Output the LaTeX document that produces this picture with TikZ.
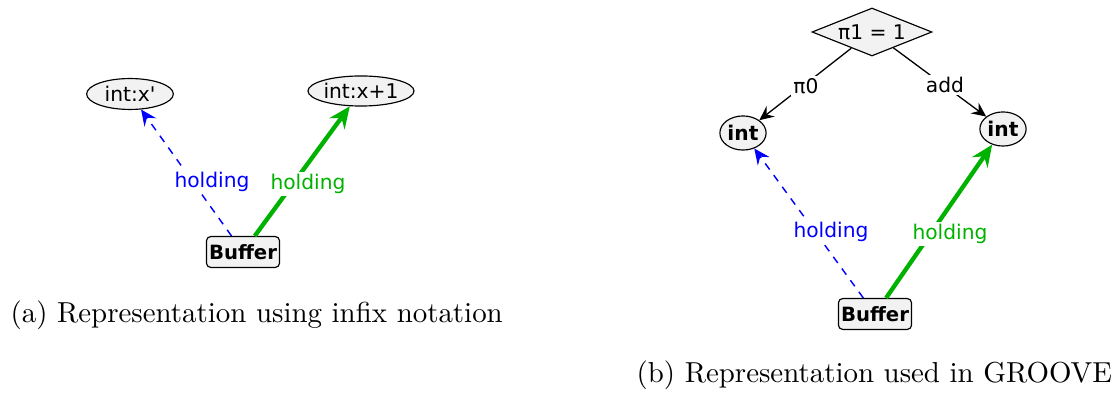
\documentclass[tikz,border=0pt]{standalone}
\usepackage{fontspec}
\newfontfamily\grfont{DejaVu Sans}
\usepackage{tikz}
\usetikzlibrary{arrows.meta,shapes.geometric}

\definecolor{grgreen}{RGB}{0,178,0}
\definecolor{grfill}{RGB}{242,242,242}

\tikzset{
	val/.style={ellipse, draw, fill=grfill, inner sep=0pt, font=\grfont\fontsize{7}{8}\selectfont},
	tp/.style={rectangle, draw, rounded corners=1.5pt, fill=grfill, inner sep=0pt, minimum width=25.3pt, minimum height=10.7pt, font=\grfont\bfseries\fontsize{6.8}{8}\selectfont},
	cond/.style={diamond, draw, fill=grfill, inner sep=0pt, aspect=2.5, minimum width=41.5pt, minimum height=16.6pt, font=\grfont\fontsize{7}{8}\selectfont},
	lbl/.style={fill=white, inner sep=0.8pt, font=\grfont\fontsize{7}{8}\selectfont},
	old/.style={blue, line width=0.5pt, dash pattern=on 2.6pt off 2.4pt, -{Stealth[length=5.5pt, width=5pt, inset=2pt]}},
	new/.style={grgreen, line width=1.5pt, -{Stealth[length=7.5pt, width=6.5pt, inset=2.6pt]}},
	op/.style={line width=0.45pt, -{Stealth[length=5pt, width=4.6pt, inset=1.8pt]}},
}

\begin{document}
\begin{tikzpicture}[x=0.346pt, y=-0.346pt]
	\useasboundingbox (0,0) rectangle (1116,394);

	% (a) infix notation
	\node (xa) at (130,94) [val, minimum width=30pt, minimum height=10.7pt] {int:x\char"0027};
	\node (xb) at (361,91) [val, minimum width=34.6pt, minimum height=10.4pt] {int:x+1};
	\node (bufa) at (243,252) [tp] {Buffer};

	\draw [old] (bufa) -- (xa);
	\draw [new] (bufa) -- (xb);
	\node (ha) at (212,182) [lbl, text=blue] {holding};
	\node (hb) at (308,184) [lbl, text=grgreen] {holding};

	\node (capa) at (10,315) [anchor=west, inner sep=0pt] {(a) Representation using infix notation};

	% (b) GROOVE
	\node (eq) at (872,32) [cond] {π1 = 1};
	\node (ia) at (743,133) [val, minimum width=16pt, minimum height=11.8pt] {\bfseries int};
	\node (ib) at (1003,129) [val, minimum width=16pt, minimum height=11.8pt] {\bfseries int};
	\node (bufb) at (875,314) [tp] {Buffer};

	\draw [op] (eq) -- (ia);
	\draw [op] (eq) -- (ib);
	\node (pa) at (806,86) [lbl] {π0};
	\node (pb) at (945,85) [lbl] {add};

	\draw [old] (bufb) -- (ia);
	\draw [new] (bufb) -- (ib);
	\node (hc) at (831,232) [lbl, text=blue] {holding};
	\node (hd) at (950,234) [lbl, text=grgreen] {holding};

	\node (capb) at (636,375) [anchor=west, inner sep=0pt] {(b) Representation used in GROOVE};
\end{tikzpicture}
\end{document}
